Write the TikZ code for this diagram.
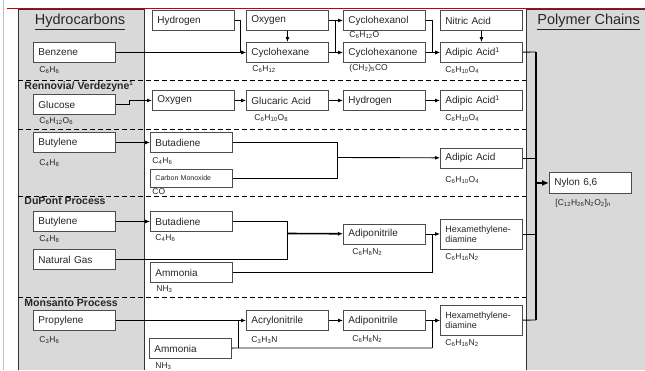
\documentclass[tikz,border=0pt]{standalone}
\usepackage{fontspec}
\setmainfont{Liberation Sans}
\usepackage{tikz}
\usetikzlibrary{positioning}
\usetikzlibrary{arrows.meta}
\newcommand{\sub}[1]{\textsubscript{#1}}

\begin{document}
\begin{tikzpicture}[x=1pt,y=-1pt,line width=0.9pt,
	>={Latex[length=5pt,width=4pt]},
	chembox/.style={draw=black!70,fill=white,anchor=north west,minimum height=20pt,text width=72pt,inner xsep=5pt,inner ysep=0pt,align=left,text=black!85,font=\fontsize{10}{11}\selectfont},
	tallbox/.style={chembox,minimum height=30pt,font=\fontsize{9}{10}\selectfont},
	formula/.style={anchor=west,inner sep=0pt,text=black!85,font=\fontsize{8.5}{9}\selectfont},
	headlabel/.style={anchor=west,inner sep=0pt,text=black!85,font=\fontsize{14.5}{16}\selectfont},
	sectionlabel/.style={anchor=west,inner sep=0pt,text=black!85,font=\bfseries\fontsize{10.5}{12}\selectfont},
	separator/.style={dash pattern=on 5pt off 3pt,line width=0.9pt},
	panel/.style={fill=gray!30},
	bus/.style={line width=1.8pt}]
				\useasboundingbox (0,0) rectangle (645,370);
				%Frame
				\draw[gray!50,line width=0.8pt] (3.5,0) -- (3.5,370);
				\fill[panel] (18,9) rectangle (144,370);
				\fill[panel] (526,9) rectangle (645,370);
				\draw[black!80] (18,370) -- (18,9) -- (144,9) -- (144,370);
				\draw[black!80] (526,370) -- (526,9) -- (645,9);
				\draw[red!80!black,line width=0.8pt] (7,8) -- (645,8);
				\draw[separator] (18,80) -- (526,80);
				\draw[separator] (18,129) -- (526,129);
				\draw[separator] (18,196) -- (526,196);
				\draw[separator] (18,297) -- (526,297);

					%Labels
					\node[headlabel,anchor=center] (hydrocarbons) at (80,22) {\underline{Hydrocarbons}};
					\node[headlabel] (polymers) at (537,22) {\underline{Polymer Chains}};
					\node[sectionlabel] (rennovia) at (24,87) {Rennovia/ Verdezyne\textsuperscript{\fontsize{6}{6}\selectfont 1}};
					\node[sectionlabel] (dupont) at (24,201) {DuPont Process};
					\node[sectionlabel] (monsanto) at (24,303) {Monsanto Process};

					%Nodes
				\node[chembox] (benzene) 	at (33,42) 	{Benzene};
				\node[chembox] (glucose) 	at (33,94) 	{Glucose};
				\node[chembox] (butyleneC) 	at (33,132) 	{Butylene};
				\node[chembox] (butyleneD) 	at (33,211) 	{Butylene};
				\node[chembox] (natgas) 	at (33,249) 	{Natural Gas};
				\node[chembox] (propylene) 	at (33,310) 	{Propylene};

				\node[chembox] (hydrogenA) 	at (152,10) 	{Hydrogen};
				\node[chembox] (oxygenA) 	at (246,10) 	{Oxygen};
				\node[chembox] (cyclohexane) 	at (246,42) 	{Cyclohexane};
				\node[chembox] (cyclohexanol) 	at (343,10) 	{Cyclohexanol};
				\node[chembox] (cyclohexanone) 	at (343,42) 	{Cyclohexanone};
				\node[chembox] (nitric) 	at (440,10) 	{Nitric Acid};
				\node[chembox] (adipicA) 	at (440,42) 	{Adipic Acid\textsuperscript{1}};

				\node[chembox] (oxygenB) 	at (152,90) 	{Oxygen};
				\node[chembox] (glucaric) 	at (246,90) 	{Glucaric Acid};
				\node[chembox] (hydrogenB) 	at (343,90) 	{Hydrogen};
				\node[chembox] (adipicB) 	at (440,90) 	{Adipic Acid\textsuperscript{1}};

				\node[chembox] (butadieneC) 	at (150,132) 	{Butadiene};
				\node[chembox,minimum height=18pt,font=\fontsize{7}{8}\selectfont] (carbonmono) 	at (150,169) 	{Carbon Monoxide};
				\node[chembox] (adipicC) 	at (440,147.5) 	{Adipic Acid};

				\node[chembox] (butadieneD) 	at (150,211) 	{Butadiene};
				\node[chembox] (ammoniaD) 	at (150,262) 	{Ammonia};
				\node[chembox] (adiponD) 	at (343,223.5) 	{Adiponitrile};
				\node[tallbox] (hexaD) 	at (440,218.5) 	{Hexamethylene-\\diamine};

				\node[chembox] (acrylo) 	at (246,310) 	{Acrylonitrile};
				\node[chembox] (adiponE) 	at (343,310) 	{Adiponitrile};
				\node[tallbox] (hexaE) 	at (440,305) 	{Hexamethylene-\\diamine};
				\node[chembox] (ammoniaE) 	at (149,338) 	{Ammonia};

				\node[chembox,minimum height=21pt] (nylon) 	at (549,172) 	{Nylon 6,6};

					%Formulas
				\node[formula] (f-benzene) 	at (39,70) 	{C\sub{6}H\sub{6}};
				\node[formula] (f-glucose) 	at (39,121) 	{C\sub{6}H\sub{12}O\sub{6}};
				\node[formula] (f-butyleneC) 	at (39,163) 	{C\sub{4}H\sub{8}};
				\node[formula] (f-butyleneD) 	at (39,239) 	{C\sub{4}H\sub{8}};
				\node[formula] (f-propylene) 	at (39,340) 	{C\sub{3}H\sub{6}};
				\node[formula] (f-cyclohexane) 	at (252,69) 	{C\sub{6}H\sub{12}};
				\node[formula] (f-cyclohexanol) 	at (349,35) 	{C\sub{6}H\sub{12}O};
				\node[formula] (f-cyclohexanone) 	at (349,68) 	{(CH\sub{2})\sub{5}CO};
				\node[formula] (f-adipicA) 	at (445,70) 	{C\sub{6}H\sub{10}O\sub{4}};
				\node[formula] (f-glucaric) 	at (254,118) 	{C\sub{6}H\sub{10}O\sub{8}};
				\node[formula] (f-adipicB) 	at (445,118) 	{C\sub{6}H\sub{10}O\sub{4}};
				\node[formula] (f-butadieneC) 	at (152,161) 	{C\sub{4}H\sub{6}};
				\node[formula] (f-carbonmono) 	at (152,191.5) 	{CO};
				\node[formula] (f-adipicC) 	at (445,180) 	{C\sub{6}H\sub{10}O\sub{4}};
				\node[formula] (f-butadieneD) 	at (155,238) 	{C\sub{4}H\sub{6}};
				\node[formula] (f-ammoniaD) 	at (156,289) 	{NH\sub{3}};
				\node[formula] (f-adiponD) 	at (352,252) 	{C\sub{6}H\sub{8}N\sub{2}};
				\node[formula] (f-hexaD) 	at (445,257) 	{C\sub{6}H\sub{16}N\sub{2}};
				\node[formula] (f-acrylo) 	at (251,340) 	{C\sub{3}H\sub{3}N};
				\node[formula] (f-adiponE) 	at (352,339) 	{C\sub{6}H\sub{8}N\sub{2}};
				\node[formula] (f-hexaE) 	at (445,343) 	{C\sub{6}H\sub{16}N\sub{2}};
				\node[formula] (f-ammoniaE) 	at (155,366) 	{NH\sub{3}};
				\node[formula] (f-nylon) 	at (555,203) 	{[C\sub{12}H\sub{26}N\sub{2}O\sub{2}]\sub{n}};

				\coordinate      (jA) 	at 	(335,20);
				\coordinate      (jC) 	at 	(337,157.5);
				\coordinate      (jD) 	at 	(287,233.5);
				\coordinate      (jD2) 	at 	(432,233.5);
				\coordinate      (jE1) 	at 	(238,348);
				\coordinate      (jE2) 	at 	(432,348);
				\coordinate      (bustop) 	at 	(536,52);
				\coordinate      (busbot) 	at 	(536,320);

				%Lines
				\draw[->] (hydrogenA.east) -- ++(6,0) |- (cyclohexane.west);
				\draw[->] (benzene) -- (cyclohexane);
				\draw[->] (oxygenA) -- (cyclohexane);
				\draw[->] (oxygenA) -- (cyclohexanol);
				\draw[->] (cyclohexane) -- (cyclohexanone);
				\draw (jA) -- (jA |- cyclohexane);
				\draw[->] (cyclohexanol.east) -- ++(7,0) |- (adipicA.west);
				\draw[->] (cyclohexanone) -- (adipicA);
				\draw[->] (nitric) -- (adipicA);

				\draw[->] (glucose.east) -- ++(14,0) |- (oxygenB.west);
				\draw[->] (oxygenB) -- (glucaric);
				\draw[->] (glucaric) -- (hydrogenB);
				\draw[->] (hydrogenB) -- (adipicB);

				\draw[->] (butyleneC) -- (butadieneC);
				\draw (butadieneC) -| (jC);
				\draw (carbonmono) -| (jC);
				\draw[->] (jC) -- (adipicC);

				\draw[->] (butyleneD) -- (butadieneD);
				\draw (butadieneD) -| (jD);
				\draw (natgas) -| (jD);
				\draw[line width=1.6pt,->] (jD) -- (adiponD);
				\draw[black] (ammoniaD.east) -- (ammoniaD.east -| jD2) -- (jD2);
				\draw[->] (adiponD) -- (hexaD);

				\draw[->] (propylene) -- (acrylo);
				\draw (ammoniaE) -- (jE1) -- (jE2);
				\draw (jE1) -- (jE1 |- acrylo);
				\draw[->] (jE2) |- (hexaE);
				\draw[->] (acrylo) -- (adiponE);
				\draw[->] (adiponE) -- (hexaE);

				\draw (adipicA) -- (bustop);
				\draw (adipicC) -- (bustop |- adipicC);
				\draw (hexaD) -- (bustop |- hexaD);
				\draw (hexaE) -- (busbot);
				\draw[bus] (bustop) -- (busbot);
				\draw[bus,-{Latex[length=7pt,width=6pt]}] (bustop |- nylon) -- (nylon);
\end{tikzpicture}
\end{document}
